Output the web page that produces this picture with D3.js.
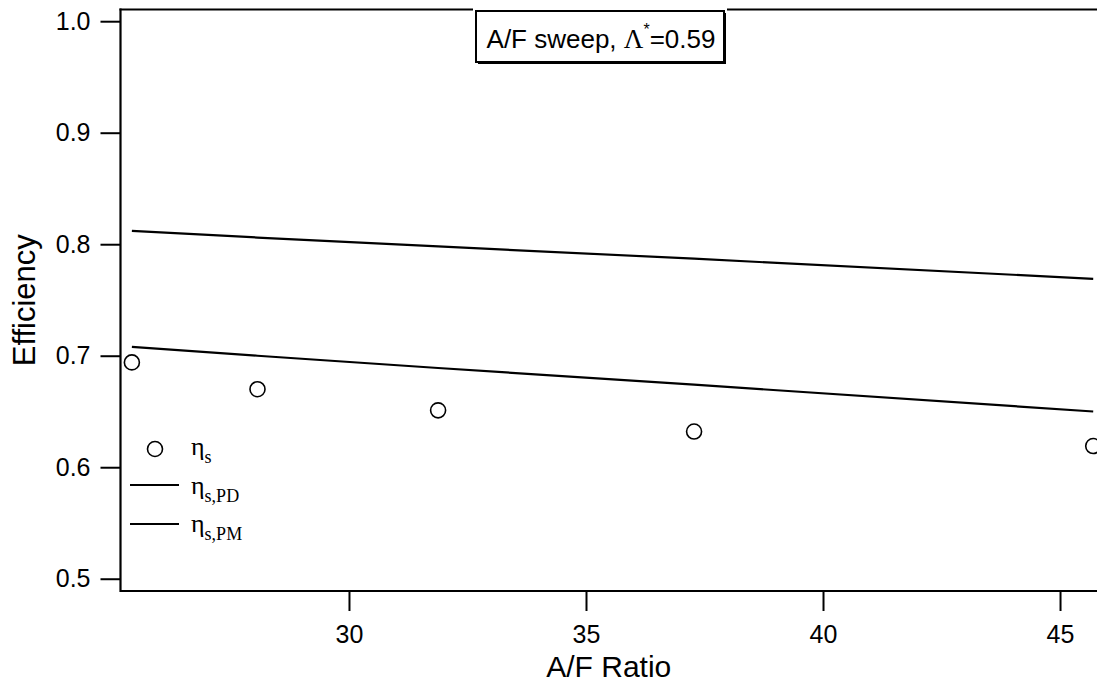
<!DOCTYPE html>
<html>
<head>
<meta charset="utf-8">
<script src="https://cdn.jsdelivr.net/npm/d3@7"></script>
<style>
  html, body { margin: 0; padding: 0; background: #fff; }
  svg { display: block; }
  text { font-family: Arial, "Liberation Sans", Helvetica, sans-serif; fill: #000; }
  .serif { font-family: "Times New Roman", "Liberation Serif", Times, serif; }
</style>
</head>
<body>
<svg id="chart" width="1097" height="687"></svg>
<script>
// A/F sweep data
const afRatio = [25.42, 28.07, 31.88, 37.28, 45.70];
const etaS    = [0.694, 0.670, 0.651, 0.632, 0.619];
const etaPD   = [0.812, 0.806, 0.798, 0.787, 0.769];
const etaPM   = [0.708, 0.700, 0.689, 0.674, 0.650];

const xTicks = [30, 35, 40, 45];
const yTicks = [0.5, 0.6, 0.7, 0.8, 0.9, 1.0];

const svg = d3.select("#chart");
const plotL = 120.5, plotR = 1097, plotT = 9.5, plotB = 591;

const x = d3.scaleLinear().domain([25.18, 45.78]).range([plotL, plotR]);
const y = d3.scaleLinear().domain([0.489, 1.0105]).range([plotB, plotT]);

// axes
const xAxis = d3.axisBottom(x).tickValues(xTicks).tickFormat(d3.format("d"))
  .tickSizeInner(20).tickSizeOuter(0).tickPadding(14);
const yAxis = d3.axisLeft(y).tickValues(yTicks).tickFormat(d3.format(".1f"))
  .tickSizeInner(20).tickSizeOuter(0).tickPadding(10);

const gx = svg.append("g").attr("transform", `translate(0,${plotB})`).call(xAxis);
const gy = svg.append("g").attr("transform", `translate(${plotL},0)`).call(yAxis);
[gx, gy].forEach(g => {
  g.select(".domain").remove();
  g.selectAll(".tick line").attr("stroke", "#000").attr("stroke-width", 2);
  g.selectAll(".tick text").attr("font-size", 25)
    .attr("font-family", "Arial, 'Liberation Sans', sans-serif").attr("fill", "#000");
});

// frame: left, bottom and top edges
const frame = svg.append("g").attr("stroke", "#000").attr("stroke-width", 2.2).attr("fill", "none");
frame.append("line").attr("x1", plotL).attr("x2", plotL).attr("y1", plotT - 1).attr("y2", plotB + 1);
frame.append("line").attr("x1", plotL).attr("x2", plotR).attr("y1", plotB).attr("y2", plotB);
frame.append("line").attr("x1", plotL - 1).attr("x2", plotR).attr("y1", plotT).attr("y2", plotT);

// model lines
const line = d3.line().x((d, i) => x(afRatio[i])).y(d => y(d));
[etaPD, etaPM].forEach(series => {
  svg.append("path").datum(series).attr("d", line)
    .attr("fill", "none").attr("stroke", "#000").attr("stroke-width", 2.2);
});

// measured points
svg.append("g").selectAll("circle").data(etaS).join("circle")
  .attr("cx", (d, i) => x(afRatio[i])).attr("cy", d => y(d)).attr("r", 7.5)
  .attr("fill", "none").attr("stroke", "#000").attr("stroke-width", 1.6);

// axis titles
svg.append("text").attr("transform", `translate(35,${(plotT + plotB) / 2}) rotate(-90)`)
  .attr("text-anchor", "middle").attr("font-size", 31).text("Efficiency");
svg.append("text").attr("x", (plotL + plotR) / 2).attr("y", 677)
  .attr("text-anchor", "middle").attr("font-size", 30).text("A/F Ratio");

// annotation box, breaking the top edge
const bx = 476, by = 11, bw = 248, bh = 51;
svg.append("rect").attr("x", bx - 3).attr("y", plotT - 3).attr("width", bw + 6).attr("height", 8).attr("fill", "#fff");
svg.append("rect").attr("x", bx + 2).attr("y", by + 2).attr("width", bw).attr("height", bh).attr("fill", "#000");
svg.append("rect").attr("x", bx).attr("y", by).attr("width", bw).attr("height", bh)
  .attr("fill", "#fff").attr("stroke", "#000").attr("stroke-width", 2);
const ann = svg.append("text").attr("x", bx + bw / 2 + 1).attr("y", 48).attr("text-anchor", "middle").attr("font-size", 26);
ann.append("tspan").text("A/F sweep, ");
ann.append("tspan").attr("class", "serif").attr("font-size", 27).text("Λ");
ann.append("tspan").attr("dy", -13).attr("font-size", 16).text("*");
ann.append("tspan").attr("dy", 13).text("=0.59");

// legend
const lg = svg.append("g");
lg.append("circle").attr("cx", 155).attr("cy", 449).attr("r", 7.5)
  .attr("fill", "none").attr("stroke", "#000").attr("stroke-width", 1.6);
[485, 524].forEach(ly => {
  lg.append("line").attr("x1", 130).attr("x2", 179).attr("y1", ly).attr("y2", ly)
    .attr("stroke", "#000").attr("stroke-width", 2.2);
});
const legendLabels = ["s", "s,PD", "s,PM"];
const legendBase = [455, 494, 532];
legendLabels.forEach((sub, i) => {
  const t = lg.append("text").attr("class", "serif").attr("x", 191).attr("y", legendBase[i]).attr("font-size", 26);
  t.append("tspan").text("η");
  t.append("tspan").attr("dy", 8).attr("font-size", 18).text(sub);
});
</script>
</body>
</html>
